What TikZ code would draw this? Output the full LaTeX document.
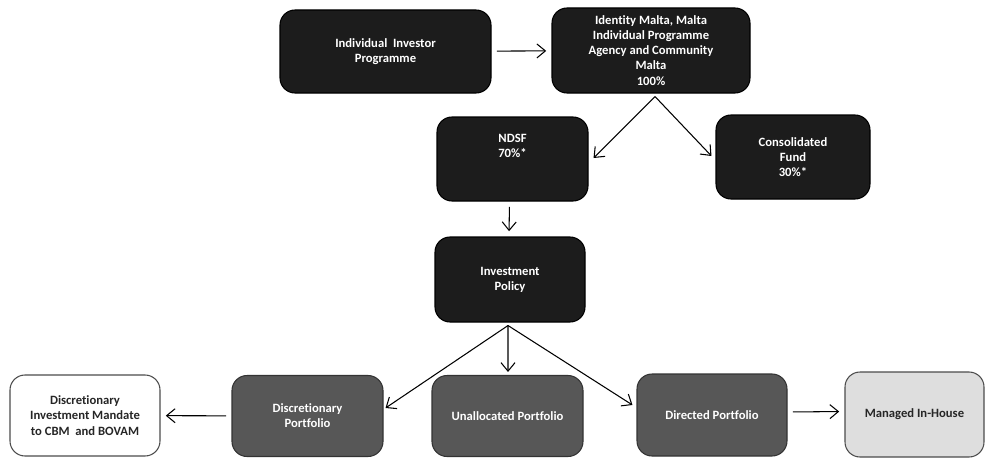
\documentclass[tikz,border=0pt]{standalone}
\usepackage{fontspec}
\setmainfont{Carlito}[Ligatures=NoCommon]
\usetikzlibrary{arrows.meta}

\begin{document}
\begin{tikzpicture}[
        box/.style={shape=rectangle,rounded corners=0.3cm,align=center,
            font=\bfseries\fontsize{7.2}{8.6}\selectfont,inner sep=2pt},
        dark/.style={box,fill=black!89,draw=black,text=white},
        grey/.style={box,fill=black!66,draw=black!80,text=white},
        light/.style={box,fill=black!13,draw=black!70,text=black!85},
        plain/.style={box,fill=white,draw=black!70,text=black!85},
        >={Straight Barb[length=1.7mm,width=2.8mm]},
        every path/.style={line width=0.6pt}]
        \useasboundingbox (0,0) rectangle (19.74,-9.18);
        \node[dark,minimum width=4.22cm,minimum height=1.66cm] (IIP) at (7.71,-1.03) {Individual \ Investor\\Programme};
        \node[dark,minimum width=3.96cm,minimum height=1.70cm] (IM) at (13.02,-1.01) {Identity Malta, Malta\\Individual Programme\\Agency and Community\\Malta\\100\%};
        \node[dark,minimum width=3.02cm,minimum height=1.68cm] (NDSF) at (10.25,-3.18) {NDSF\\70\%*\\[6pt]};
        \node[dark,minimum width=3.08cm,minimum height=1.68cm] (CF) at (15.86,-3.14) {Consolidated\\Fund\\30\%*};
        \node[dark,minimum width=3.00cm,minimum height=1.70cm] (IP) at (10.20,-5.59) {Investment\\Policy};
        \node[plain,minimum width=3.00cm,minimum height=1.62cm] (DIM) at (1.70,-8.31) {Discretionary\\Investment Mandate\\to CBM \ and BOVAM};
        \node[grey,minimum width=3.02cm,minimum height=1.62cm] (DP) at (6.15,-8.32) {Discretionary\\Portfolio};
        \node[grey,minimum width=3.02cm,minimum height=1.62cm] (UP) at (10.15,-8.32) {Unallocated Portfolio};
        \node[grey,minimum width=3.00cm,minimum height=1.64cm] (DirP) at (14.24,-8.30) {Directed Portfolio};
        \node[light,minimum width=2.78cm,minimum height=1.70cm] (MIH) at (18.29,-8.29) {Managed In-House};
        \draw [->,shorten <=3pt,shorten >=3pt] (IIP) -- (IM);
        \draw [->] ([xshift=0.08cm,yshift=-0.06cm]IM.south) -- ([xshift=0.1cm,yshift=0.02cm]NDSF.east);
        \draw [->] ([xshift=0.08cm,yshift=-0.06cm]IM.south) -- ([xshift=-0.08cm,yshift=0.02cm]CF.west);
        \draw [->,shorten <=3pt,shorten >=3pt] ([xshift=-0.06cm]NDSF.south) -- ([xshift=-0.02cm]IP.north);
        \draw [->] ([xshift=-0.04cm,yshift=-0.06cm]IP.south) -- ([xshift=0.04cm,yshift=0.16cm]DP.east);
        \draw [->] ([xshift=-0.04cm,yshift=-0.06cm]IP.south) -- ([xshift=0.01cm,yshift=0.06cm]UP.north);
        \draw [->] ([xshift=-0.04cm,yshift=-0.06cm]IP.south) -- ([xshift=-0.08cm,yshift=0.2cm]DirP.west);
        \draw [->,shorten <=3pt,shorten >=3pt] (DP) -- (DIM);
        \draw [->,shorten <=3pt,shorten >=3pt] ([yshift=0.06cm]DirP.east) -- ([yshift=0.06cm]MIH.west);
    \end{tikzpicture}
\end{document}
